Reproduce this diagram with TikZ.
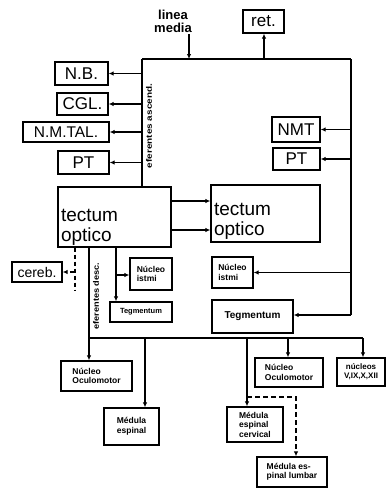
\documentclass[tikz,border=0pt]{standalone}
\usepackage{fontspec}
\usepackage{graphicx}
\setmainfont{Liberation Sans}
\usetikzlibrary{arrows.meta}
\begin{document}
\begin{tikzpicture}[x=1pt,y=-1pt,
 box/.style={draw,line width=1.3pt,rectangle,inner sep=1pt},
 big/.style={font=\fontsize{17}{18}\selectfont},
 mid/.style={font=\fontsize{13}{13}\selectfont\bfseries},
 small/.style={font=\fontsize{8.5}{9.5}\selectfont\bfseries,align=left},
 tect/.style={box,font=\fontsize{19}{20}\selectfont,align=left,anchor=center},
 ln/.style={line width=1.3pt},
 ar/.style={ln,-{Latex[length=5pt,width=4.5pt]}},
 dsh/.style={ar,dash pattern=on 5pt off 3pt},
 vlab/.style={rotate=90,font=\fontsize{8}{9}\selectfont\bfseries,inner sep=0pt}]
\useasboundingbox (0,0) rectangle (390,493);
% top labels
\node[mid,align=center,inner sep=0pt] (lm) at (173,21) {linea\\media};
\node[box,big,minimum width=41pt,minimum height=23pt] (ret) at (263.5,21.5) {ret.};
% left column
\node[box,big,minimum width=53pt,minimum height=23pt] (nb) at (81.5,73.5) {N.B.};
\node[box,big,minimum width=51pt,minimum height=22pt] (cgl) at (82.5,104) {CGL.};
\node[box,font=\fontsize{15.5}{16}\selectfont,minimum width=86pt,minimum height=20pt] (nmtal) at (66,132) {N.M.TAL.};
\node[box,big,minimum width=51pt,minimum height=23pt] (ptl) at (83.5,162.5) {PT};
% right column
\node[box,big,minimum width=48pt,minimum height=25pt] (nmt) at (296,129.5) {NMT};
\node[box,big,minimum width=47pt,minimum height=22pt] (ptr) at (296.5,159) {PT};
% tecta
\node[tect,minimum width=113pt,minimum height=60pt,text width=107pt] (tl) at (114.5,217) {\\[12pt]tectum\\optico};
\node[tect,minimum width=109pt,minimum height=57pt,text width=103pt] (tr) at (265.5,213.5) {\\[8pt]tectum\\optico};
% lower small boxes
\node[box,font=\fontsize{14}{14}\selectfont,minimum width=50pt,minimum height=20pt] (cereb) at (37,272) {cereb.};
\node[box,small,minimum width=42pt,minimum height=32pt] (isl) at (151,274) {Núcleo\\istmi};
\node[box,small,font=\fontsize{7.5}{8.5}\selectfont\bfseries,minimum width=62pt,minimum height=20pt] (tegl) at (141,312) {Tegmentum};
\node[box,small,minimum width=41pt,minimum height=31pt] (isr) at (232.5,272.5) {Núcleo\\istmi};
\node[box,small,font=\fontsize{10}{11}\selectfont\bfseries,minimum width=81pt,minimum height=33pt] (tegr) at (252.5,316.5) {Tegmentum};
\node[box,small,minimum width=71pt,minimum height=30pt] (ocl) at (96.5,376) {Núcleo\\Oculomotor};
\node[box,small,minimum width=55pt,minimum height=37pt] (med) at (131.5,426.5) {Médula\\espinal};
\node[box,small,minimum width=68pt,minimum height=29pt] (ocr) at (289,372.5) {Núcleo\\Oculomotor};
\node[box,small,font=\fontsize{8}{9}\selectfont\bfseries,align=center,minimum width=48pt,minimum height=28pt] (nuc) at (361,372) {núcleos\\V,IX,X,XII};
\node[box,small,minimum width=56pt,minimum height=35pt] (mcv) at (255,424.5) {Médula\\espinal\\cervical};
\node[box,small,minimum width=70pt,minimum height=30pt] (mlb) at (292,472) {Médula es-\\pinal lumbar};
% vertical labels
\node[vlab] (asc) at (149,126) {\scalebox{1.25}[1]{eferentes ascend.}};
\node[vlab] (desc) at (96,296) {\scalebox{1.15}[1]{eferentes desc.}};
% coordinates
\coordinate (tlA) at (142,59);
\coordinate (trA) at (351,59);
\coordinate (bl) at (89,338);
\coordinate (br) at (363,338);
% top frame
\draw[ln] (tlA) -- (trA);
\draw[ln] (tlA) -- (tl.north -| tlA);
\draw[ln] (trA) -- (351,315);
\draw[ar] (lm.south -| 189,0) ++(0,2) -- (189,59);
\draw[ar] (264,59) -- (ret.south -| 264,0);
% left arrows
\draw[ar] (nb.east -| tlA) -- (nb.east);
\draw[ar] (cgl.east -| tlA) -- (cgl.east);
\draw[ar] (nmtal.east -| tlA) -- (nmtal.east);
\draw[ar] (ptl.east -| tlA) -- (ptl.east);
% right arrows
\draw[ar] (nmt.east -| trA) -- (nmt.east);
\draw[ar] (ptr.east -| trA) -- (ptr.east);
\draw[ar] (isr.east -| trA) -- (isr.east);
\draw[ar] (351,315) -- (tegr.east |- 0,315);
% tectum to tectum
\draw[ar] (tl.east |- 0,201) -- (tr.west |- 0,201);
\draw[ar] (tl.east |- 0,230) -- (tr.west |- 0,230);
% cereb dashed
\draw[ln,dash pattern=on 4pt off 3pt] (tl.south -| 75,0) -- (75,290);
\draw[dsh] (75,272) -- (cereb.east);
% istmi / tegmentum left
\draw[ar] (tl.south -| 116,0) -- (tegl.north -| 116,0);
\draw[ar] (116,275) -- (isl.west |- 0,275);
% descending
\draw[ar] (tl.south -| bl) -- (ocl.north -| bl);
\draw[ln] (bl) -- (br);
\draw[ar] (145,338) -- (med.north -| 145,0);
\draw[ar] (247,338) -- (mcv.north -| 247,0);
\draw[ar] (288,338) -- (ocr.north -| 288,0);
\draw[ar] (br) -- (nuc.north -| br);
\draw[dsh] (247,397) -- (296,397) -- (mlb.north -| 296,0);
\end{tikzpicture}
\end{document}
